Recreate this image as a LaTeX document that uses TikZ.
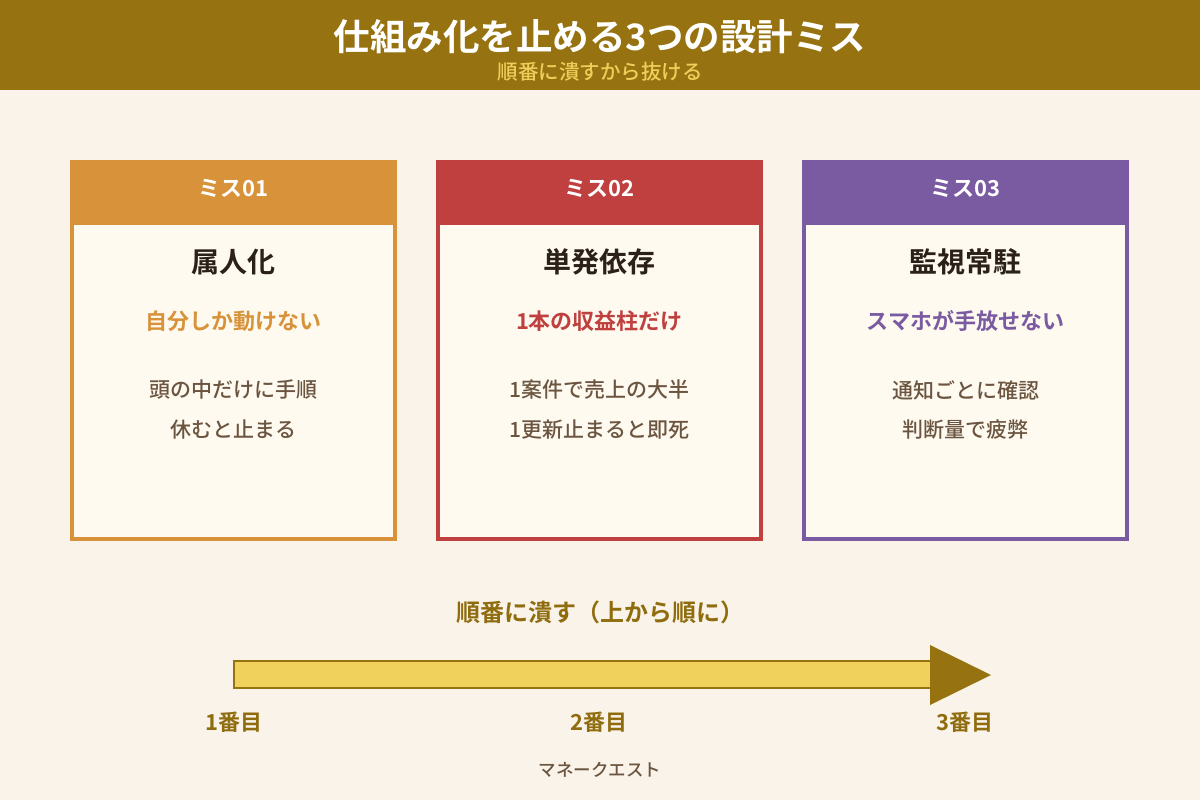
\documentclass[tikz,border=0pt]{standalone}
\usepackage{fontspec}
\setmainfont{Noto Sans CJK JP}[BoldFont={Noto Sans CJK JP Bold}]
\newfontfamily\mediumjp{Noto Sans CJK JP Medium}
\usepackage{tikz}
\usetikzlibrary{positioning,calc}
\usepackage{xcolor}
\definecolor{pagebg}{HTML}{FAF3E9}
\definecolor{bandgold}{HTML}{967310}
\definecolor{subgold}{HTML}{F0CE5A}
\definecolor{misorange}{HTML}{D8923A}
\definecolor{misred}{HTML}{C04040}
\definecolor{mispurple}{HTML}{7A5AA0}
\definecolor{cardfill}{HTML}{FEFAF0}
\definecolor{inkdark}{HTML}{2B2118}
\definecolor{inkbrown}{HTML}{6B5540}
\definecolor{inkgold}{HTML}{8F6C0E}
\definecolor{arrowfill}{HTML}{EFD15B}
\newcommand{\fsz}[1]{\fontsize{#1}{#1}\selectfont}

\begin{document}
\begin{tikzpicture}[x=1pt,y=-1pt,
  headtxt/.style={font=\fsz{22}\bfseries,text=white,anchor=center},
  nametxt/.style={font=\fsz{28}\bfseries,text=inkdark,anchor=center},
  subtxt/.style={font=\fsz{22}\bfseries,anchor=center},
  bodytxt/.style={font=\fsz{21}\mediumjp,text=inkbrown,anchor=center},
  ranktxt/.style={font=\fsz{22}\bfseries,text=inkgold,anchor=center}]
\useasboundingbox[fill=pagebg] (0,0) rectangle (1200,800);
% header band
\fill[bandgold] (0,0) rectangle (1200,90);
\node[font=\fsz{36.5}\bfseries,text=white] (title) at (600,37) {仕組み化を止める3つの設計ミス};
\node[font=\fsz{20.5}\mediumjp,text=subgold] (subtitle) at (600,72) {順番に潰すから抜ける};
% three cards
\foreach \i/\x/\col/\nm/\sub/\la/\lb in {
  1/70/misorange/属人化/自分しか動けない/頭の中だけに手順/休むと止まる,
  2/436/misred/単発依存/1本の収益柱だけ/1案件で売上の大半/1更新止まると即死,
  3/802/mispurple/監視常駐/スマホが手放せない/通知ごとに確認/判断量で疲弊} {
  \draw[\col,line width=4,fill=cardfill] (\x+2,162) rectangle (\x+325,539);
  \fill[\col] (\x,160) rectangle (\x+327,225);
  \node[headtxt] (head\i) at (\x+163.5,188) {ミス0\i};
  \node[nametxt] (name\i) at (\x+163.5,262) {\nm};
  \node[subtxt,text=\col] (sub\i) at (\x+163.5,321) {\sub};
  \node[bodytxt] (lineA\i) at (\x+163.5,390) {\la};
  \node[bodytxt] (lineB\i) at (\x+163.5,430) {\lb};
}
% order arrow
\node[font=\fsz{24}\bfseries,text=inkgold] (order) at (600,612) {順番に潰す（上から順に）};
\draw[bandgold,line width=2,fill=arrowfill] (234,661) rectangle (931,688);
\fill[bandgold] (930,645) -- (991,675) -- (930,705) -- cycle;
\node[ranktxt] (rank1) at (234,722) {1番目};
\node[ranktxt] (rank2) at (599,722) {2番目};
\node[ranktxt] (rank3) at (965,722) {3番目};
\node[font=\fsz{17.5}\mediumjp,text=inkbrown] (credit) at (600,770) {マネークエスト};
\end{tikzpicture}
\end{document}
